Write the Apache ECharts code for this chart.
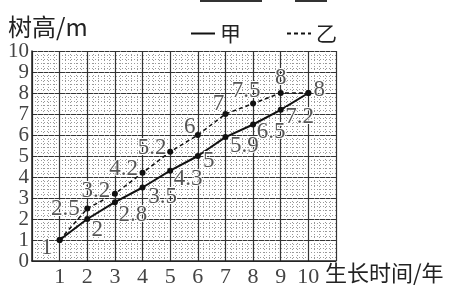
<!DOCTYPE html>
<html>
<head>
<meta charset="utf-8">
<script src="https://cdn.jsdelivr.net/npm/echarts@6/dist/echarts.min.js"></script>
<style>html,body{margin:0;padding:0;background:#fff}#c{width:451px;height:293px}</style>
</head>
<body>
<div id="c"></div>
<script>
const years = [1, 2, 3, 4, 5, 6, 7, 8, 9, 10];
const jiaValues = [1, 2, 2.8, 3.5, 4.3, 5, 5.9, 6.5, 7.2, 8];
const yiValues = [1, 2.5, 3.2, 4.2, 5.2, 6, 7, 7.5, 8, 8];
const jiaLabels = ['1', '2', '2.8', '3.5', '4.3', '5', '5.9', '6.5', '7.2', '8'];
const yiLabels = ['', '2.5', '3.2', '4.2', '5.2', '6', '7', '7.5', '8', ''];
const seriesNames = ['甲', '乙'];
const xTickLabels = ['1', '2', '3', '4', '5', '6', '7', '8', '9', '10'];

// label offsets (style only)
const jiaOffsets = [[-13, 8], [10, 11], [18, 13], [20, 9], [18, 8], [11, 5], [19, 9], [18, 7], [19, 7], [11, -3]];
const yiOffsets = [[0, 0], [-22, 0], [-19, -3], [-19, -4], [-18, -4], [-8, -8], [-7, -10], [-7, -13], [0, -15], [0, 0]];

const labelFont = {
  fontFamily: 'Liberation Serif, DejaVu Serif, serif',
  fontSize: 23,
  color: '#555',
  textBorderColor: '#fff',
  textBorderWidth: 2
};

function buildData(vals, labels, offsets) {
  return vals.map((v, i) => ({
    value: [years[i], v],
    label: {
      show: labels[i] !== '',
      formatter: labels[i],
      position: 'inside',
      align: 'center',
      verticalAlign: 'middle',
      offset: offsets[i],
      ...labelFont
    }
  }));
}

const chart = echarts.init(document.getElementById('c'));
chart.setOption({
  animation: false,
  backgroundColor: '#fff',
  grid: { left: 32, right: 115, top: 51, bottom: 32, containLabel: false },
  legend: {
    data: seriesNames,
    left: 190,
    top: 23,
    padding: 0,
    itemWidth: 24,
    itemHeight: 2,
    itemGap: 45,
    textStyle: { fontFamily: 'Noto Sans CJK SC', fontSize: 21, color: '#222' },
    itemStyle: { opacity: 0 }
  },
  xAxis: {
    type: 'value',
    min: 0, max: 11, interval: 1,
    axisLine: { show: true, lineStyle: { color: '#222', width: 1.5 } },
    axisTick: { show: false },
    axisLabel: {
      margin: 5,
      fontFamily: 'Liberation Serif, serif', fontSize: 22, color: '#444',
      formatter: v => (v >= 1 && v <= 10) ? xTickLabels[v - 1] : ''
    },
    splitLine: { show: true, lineStyle: { color: '#333', width: 1.2 } },
    minorTick: { show: false, splitNumber: 5 },
    minorSplitLine: { show: true, lineStyle: { color: '#999', width: 1, type: [1, 2] } }
  },
  yAxis: {
    type: 'value',
    min: 0, max: 10, interval: 1,
    axisLine: { show: true, lineStyle: { color: '#222', width: 1.5 } },
    axisTick: { show: false },
    axisLabel: {
      margin: 3,
      fontFamily: 'Liberation Serif, serif', fontSize: 21, color: '#444'
    },
    splitLine: { show: true, lineStyle: { color: '#333', width: 1.2 } },
    minorTick: { show: false, splitNumber: 5 },
    minorSplitLine: { show: true, lineStyle: { color: '#999', width: 1, type: [1, 2] } }
  },
  graphic: [
    { type: 'text', left: 8, top: 15, style: { text: '树高/m', font: '24px "Noto Sans CJK SC"', fill: '#222' } },
    { type: 'text', left: 325, top: 262, style: { text: '生长时间/年', font: '22px "Noto Sans CJK SC"', fill: '#222' } },
    { type: 'rect', left: 200, top: 0, shape: { width: 62, height: 2 }, style: { fill: '#333' } },
    { type: 'rect', left: 295, top: 0, shape: { width: 32, height: 2 }, style: { fill: '#333' } }
  ],
  series: [
    {
      name: seriesNames[0],
      type: 'line',
      data: buildData(jiaValues, jiaLabels, jiaOffsets),
      symbol: 'circle', symbolSize: 6,
      itemStyle: { color: '#111' },
      lineStyle: { color: '#111', width: 2 },
      z: 3
    },
    {
      name: seriesNames[1],
      type: 'line',
      data: buildData(yiValues, yiLabels, yiOffsets),
      symbol: 'circle', symbolSize: 6,
      itemStyle: { color: '#111' },
      lineStyle: { color: '#111', width: 1.5, type: [4, 3] },
      z: 3
    }
  ]
});
</script>
</body>
</html>
